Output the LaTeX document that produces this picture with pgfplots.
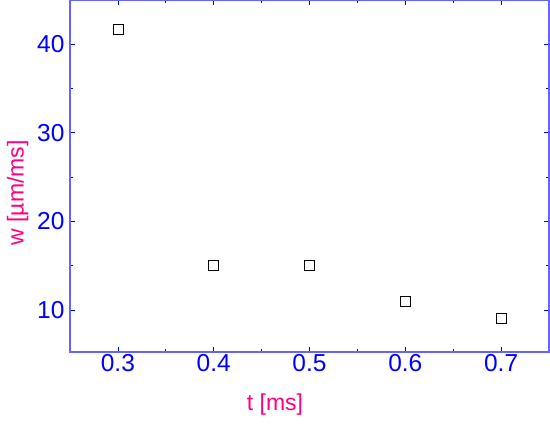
\documentclass[border=0pt]{standalone}
\usepackage{pgfplots}
\pgfplotsset{compat=1.18}
\usepackage{fontspec}
\setmainfont{Liberation Sans}
\usetikzlibrary{calc}
\definecolor{spine}{RGB}{100,100,255}
\definecolor{rose}{RGB}{255,0,128}
\begin{document}
\begin{tikzpicture}
\begin{axis}[
  scale only axis,
  width=479pt, height=352pt,
  xmin=0.25, xmax=0.75, ymin=5.25, ymax=45,
  xtick={0.3,0.4,0.5,0.6,0.7},
  ytick={10,20,30,40},
  minor x tick num=1,
  minor y tick num=1,
  tick align=inside,
  major tick length=5pt,
  minor tick length=3pt,
  axis line style={spine, line width=1.5pt},
  every tick/.style={blue, line width=0.8pt},
  tick label style={blue, font=\fontsize{24.5}{28}\selectfont},
  /pgf/number format/assume math mode=true,
  xticklabel style={/pgf/number format/fixed, /pgf/number format/precision=1, /pgf/number format/fixed zerofill, yshift=1pt},
  yticklabel style={xshift=-2pt},
  xlabel={t [ms]},
  ylabel={w [µm/ms]},
  label style={rose, font=\fontsize{23}{27}\selectfont},
  xlabel style={at={(axis description cs:0.428,0)}, anchor=north, yshift=-38pt},
  ylabel style={at={(axis description cs:0,0.452)}, anchor=south, yshift=38pt},
]
\addplot[only marks, mark=square, mark size=5pt, black, mark options={line width=0.6pt}] coordinates {
(0.3,41.7) (0.4,15.0) (0.5,15.0) (0.6,11.0) (0.7,9.0)
};
\coordinate (sw) at (rel axis cs:0,0);
\coordinate (ne) at (rel axis cs:1,1);
\end{axis}
\pgfresetboundingbox
\path[use as bounding box] ($(sw)+(-70pt,-72pt)$) rectangle ($(ne)+(1pt,0pt)$);
\end{tikzpicture}
\end{document}
